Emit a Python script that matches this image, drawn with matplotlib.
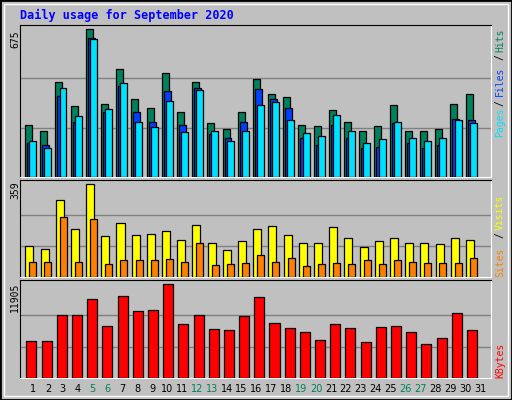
import matplotlib
matplotlib.use("Agg")
import matplotlib.pyplot as plt
from matplotlib.patches import Rectangle

days = list(range(1, 31))
hits = [235,212,432,322,675,331,492,354,313,473,295,432,244,221,295,446,377,363,235,231,304,253,212,231,327,212,212,217,331,377]
files = [153,148,368,249,634,295,414,295,249,391,235,405,194,180,253,400,354,313,180,148,235,180,134,139,244,157,134,144,263,258]
pages = [162,130,405,276,629,308,428,253,226,345,203,395,212,162,212,327,341,258,199,185,281,212,153,171,253,180,162,176,258,244]
visits = [122,110,297,188,359,157,211,161,165,180,145,203,133,106,141,188,196,161,130,133,192,153,118,141,153,133,130,126,153,145]
sites = [60,60,231,60,223,52,64,67,64,71,60,133,48,52,56,87,60,75,44,52,56,52,64,52,67,60,56,56,56,75]
kbytes = [4736,4736,7995,7995,10080,6561,10341,8516,8647,11905,6822,7995,6170,6040,7864,10211,6952,6300,5779,4866,6822,6300,4606,6431,6561,5779,4345,5127,8256,6040]
weekend = [5,6,12,13,19,20,26,27]

BG = "#C0C0C0"
C_HITS, C_FILES, C_PAGES = "#00805C", "#0040FF", "#00E0FF"
C_VIS, C_SITES, C_KB = "#FFFF00", "#FF8000", "#FF0000"
mono = "DejaVu Sans Mono"

fig = plt.figure(figsize=(5.12, 4.0), dpi=100, facecolor=BG)
fig.patches.append(Rectangle((0, 0), 1, 1, transform=fig.transFigure, fill=False,
                             edgecolor="black", linewidth=2))
fig.patches.append(Rectangle((4/512, 4/400), 504/512, 392/400, transform=fig.transFigure,
                             fill=False, edgecolor="white", linewidth=1))

def mkax(top, bot, ymax):
    ax = fig.add_axes([20/512, 1-bot/400, 471/512, (bot-top)/400])
    ax.set_facecolor(BG)
    ax.set_xlim(0, 31.0)
    ax.set_ylim(0, ymax)
    ax.set_xticks([]); ax.set_yticks([])
    for s in ("top", "left"):
        ax.spines[s].set_color("black")
    for s in ("bottom", "right"):
        ax.spines[s].set_color("white")
    return ax

def grid(ax, m):
    for f in (1/3, 2/3):
        ax.axhline(m*f, color="#808080", linewidth=1, zorder=1)

kw = dict(edgecolor="black", linewidth=0.9, align="edge", zorder=3)
x0 = [d-1 for d in days]

ax1 = mkax(25, 177, 693)
grid(ax1, 675)
ax1.bar([x+0.33 for x in x0], hits, 0.46, color=C_HITS, **kw)
ax1.bar([x+0.46 for x in x0], files, 0.46, color=C_FILES, **kw)
ax1.bar([x+0.60 for x in x0], pages, 0.46, color=C_PAGES, **kw)

ax2 = mkax(180, 277, 376)
grid(ax2, 359)
ax2.bar([x+0.35 for x in x0], visits, 0.53, color=C_VIS, **kw)
ax2.bar([x+0.61 for x in x0], sites, 0.46, color=C_SITES, **kw)

ax3 = mkax(280, 378, 12427)
grid(ax3, 11905)
ax3.bar([x+0.42 for x in x0], kbytes, 0.66, color=C_KB, **kw)

def ft(x, y, s, family=mono, **k):
    fig.text(x/512, 1-y/400, s, fontfamily=family, **k)

ft(20, 15, "Daily usage for September 2020", color="#0000FF", fontsize=8.5,
   fontweight="bold", va="center", ha="left")
ft(15, 39, "675", rotation=90, fontsize=7, ha="center", va="center")
ft(15, 190, "359", rotation=90, fontsize=7, ha="center", va="center")
ft(15, 297, "11905", rotation=90, fontsize=7, ha="center", va="center")

for txt, y, c in [("Hits", 40, C_HITS), ("/", 57, "black"), ("Files", 81, C_FILES),
                  ("/", 103, "black"), ("Pages", 122, C_PAGES),
                  ("Visits", 212, C_VIS), ("/", 235, "black"), ("Sites", 262, C_SITES),
                  ("KBytes", 360, C_KB)]:
    ft(500, y, txt, rotation=90, color=c, fontsize=7, ha="center", va="center")

for d in range(1, 32):
    xp = 33 + (d-1)*14.9
    ft(xp, 389, str(d), family="DejaVu Sans", fontsize=7, ha="center", va="center",
       color=C_HITS if d in weekend else "black")

fig.savefig("out.png", dpi=100, facecolor=BG)
